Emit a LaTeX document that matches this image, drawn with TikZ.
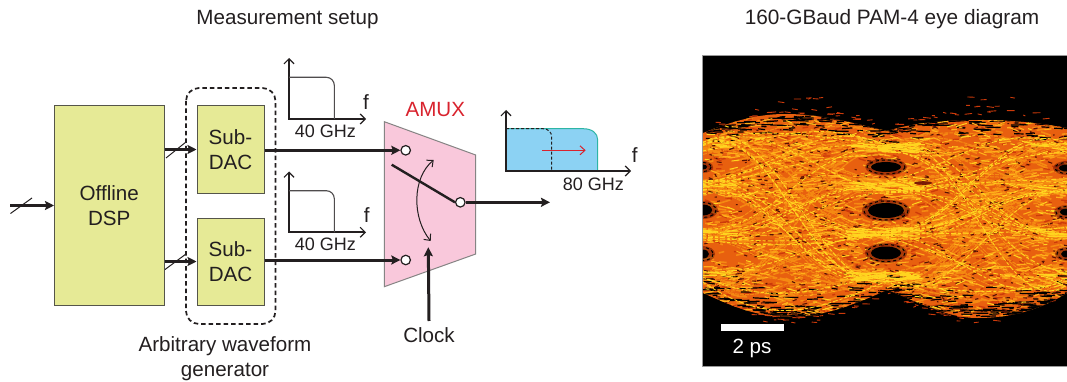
\documentclass[tikz,border=0pt]{standalone}
\usepackage{fontspec}
\setmainfont{Liberation Sans}
\usetikzlibrary{arrows.meta,shapes.geometric,calc}
\definecolor{ink}{HTML}{231F20}
\definecolor{blockfill}{HTML}{E6EA96}
\definecolor{blockedge}{HTML}{55554A}
\definecolor{amuxfill}{HTML}{F9C8DB}
\definecolor{amuxred}{HTML}{D9232E}
\definecolor{specblue}{HTML}{8CD2F3}
\definecolor{specteal}{HTML}{2DB5A5}
\definecolor{eyebase}{HTML}{E8600F}
\definecolor{eyered}{HTML}{CC3A0A}
\definecolor{eyeorange}{HTML}{F58A12}
\definecolor{eyeamber}{HTML}{FFB01A}
\definecolor{eyeyellow}{HTML}{FFD51F}
\definecolor{eyedark}{HTML}{7A1A06}
\newcommand{\bigfont}{\fontsize{20.6}{24}\selectfont}
\newcommand{\midfont}{\fontsize{18}{21}\selectfont}
\tikzset{
  block/.style={draw=blockedge,fill=blockfill,line width=1pt,inner sep=0pt,align=center,font=\bigfont,text=ink},
  label/.style={inner sep=0pt,align=center,font=\bigfont,text=ink},
  smalllabel/.style={inner sep=0pt,font=\midfont,text=ink},
  bus/.style={draw=ink,line width=3pt,-{Stealth[length=9pt,width=9pt,inset=1.5pt]}},
  slashmark/.style={draw=ink,line width=1pt},
  axes/.style={draw=ink,line width=1.8pt,{Straight Barb[length=5pt,width=10pt,line width=1.2pt]}-{Straight Barb[length=5pt,width=10pt,line width=1.2pt]}},
  spectrum/.style={draw=ink!80,line width=1.1pt,rounded corners=8pt},
  port/.style={circle,draw=ink,fill=white,line width=1.2pt,minimum size=9.5pt,inner sep=0pt},
  trace/.style={line width=#1,line cap=butt}
}
\newcommand{\eyetrace}[3]{%
  \pgfmathsetmacro{\xa}{ifthenelse(random(0,1)==1,886,703)}%
  \pgfmathsetmacro{\la}{{148,187,233,277}[random(0,3)]+rand*7}%
  \pgfmathsetmacro{\lb}{{148,187,233,277}[random(0,3)]+rand*7}%
  \pgfmathsetmacro{\ca}{\la+(\la-212)*0.72*rnd}%
  \pgfmathsetmacro{\cb}{\lb+(\lb-212)*0.72*rnd}%
  \draw[#1,trace=#2,#3] (\xa,\la) .. controls (\xa+70,\ca) and (\xa+113,\cb) .. (\xa+183,\lb);%
}
\newcommand{\noisestrokes}[4]{%
  \foreach \i in {1,...,#1}{%
    \pgfmathsetmacro{\sx}{703+364*rnd}%
    \pgfmathsetmacro{\sy}{118+198*rnd}%
    \pgfmathsetmacro{\sl}{#3*(0.4+rnd)}%
    \pgfmathsetmacro{\sd}{\sl*0.45*rand}%
    \draw[#2,line width=#4] (\sx,\sy) -- (\sx+\sl,\sy+\sd);%
  }%
}
\newcommand{\eyeenvelope}{(703,133) .. controls (735,120) and (760,114) .. (785,114)
  .. controls (825,114) and (860,125) .. (887,131)
  .. controls (915,122) and (950,120) .. (983,120)
  .. controls (1015,120) and (1045,124) .. (1067,128)
  -- (1067,293) .. controls (1040,310) and (1010,318) .. (977,318)
  .. controls (945,318) and (915,300) .. (887,290)
  .. controls (860,302) and (825,317) .. (790,317)
  .. controls (755,317) and (730,305) .. (703,293) -- cycle}
\begin{document}
\begin{tikzpicture}[x=1pt,y=-1pt]
\useasboundingbox (0,0) rectangle (1067,382);
\fill[white] (0,0) rectangle (1067,382);

% titles
\node[inner sep=0pt,font=\bigfont,text=ink] (title1) at (287.5,19.5) {Measurement setup};
\node[inner sep=0pt,font=\fontsize{20.8}{24}\selectfont,text=ink] (title2) at (892,19.5) {160-GBaud PAM-4 eye diagram};

% blocks
\node[block,minimum width=109.5pt,minimum height=199pt] (dsp) at (109.25,205.5) {Offline\\[1pt]DSP};
\node[block,minimum width=67pt,minimum height=87pt] (dac1) at (230.5,149.5) {Sub-\\[1pt]DAC};
\node[block,minimum width=67pt,minimum height=87pt] (dac2) at (230.5,261.5) {Sub-\\[1pt]DAC};
\coordinate (awgA) at (186,88);
\coordinate (awgB) at (275.5,324);
\draw[ink,line width=1.7pt,dash pattern=on 4.5pt off 3pt,rounded corners=13pt] (awgA) rectangle (awgB);
\node[label] (awg) at (225,358.5) {Arbitrary waveform\\[1pt]generator};

% input and bus arrows
\coordinate (inp) at (10,205.5);
\draw[bus] (inp) -- (dsp.west);
\coordinate (s1a) at (10.5,213.5); \coordinate (s1b) at (32,198);
\draw[slashmark] (s1a) -- (s1b);
\draw[bus] (dsp.east |- dac1.west) -- (dac1.west);
\draw[bus] (dsp.east |- dac2.west) -- (dac2.west);
\coordinate (s2a) at (166,158); \coordinate (s2b) at (186,142);
\coordinate (s3a) at (165,269.5); \coordinate (s3b) at (186,254);
\draw[slashmark] (s2a) -- (s2b);
\draw[slashmark] (s3a) -- (s3b);

% AMUX
\coordinate (m1) at (384.3,121.7);
\coordinate (m2) at (475.7,155);
\coordinate (m3) at (475.7,254);
\coordinate (m4) at (384.3,286.7);
\draw[fill=amuxfill,draw=none] (m1) -- (m2) -- (m3) -- (m4) -- cycle;
\draw[ink!55,line width=1pt] (m1) -- (m2) -- (m3) -- (m4) -- cycle;
\node[inner sep=0pt,font=\bigfont,text=amuxred] (amux) at (435.3,110) {AMUX};
\node[port] (pin1) at (405.7,150.3) {};
\node[port] (pin2) at (405.7,260) {};
\node[port] (pout) at (460.3,202.3) {};
\draw[bus] (dac1.east |- pin1.west) -- (pin1.west);
\draw[bus] (dac2.east |- pin2.west) -- (pin2.west);
\coordinate (swend) at (391.7,164.7);
\draw[ink,line width=2.4pt] (swend) -- (pout.west);
\coordinate (outend) at (550,202.3);
\draw[bus] (pout.east) -- (outend);
\coordinate (sa) at (433.7,160);
\coordinate (sb) at (430.7,241);
\draw[ink,line width=1pt,{Straight Barb[length=5pt,width=9pt]}-{Straight Barb[length=5pt,width=9pt]}] (sa) .. controls (412,178) and (412,218) .. (sb);
\node[label] (clock) at (429,335.5) {Clock};
\coordinate (clkend) at (428.3,247.3);
\draw[bus] (clock.north |- 0,321) -- (clkend);

% spectra 1
\coordinate (a1o) at (289,119); \coordinate (a1y) at (289,58); \coordinate (a1x) at (366,119);
\draw[axes] (a1y) -- (a1o) -- (a1x);
\draw[spectrum] (289,77.3) -- (334.3,77.3) -- (334.3,119);
\node[label] (f1) at (366,102) {f};
\node[smalllabel] (g1) at (325.3,131) {40 GHz};
% spectra 2
\coordinate (a2o) at (289,232.3); \coordinate (a2y) at (289,171.5); \coordinate (a2x) at (366,232.3);
\draw[axes] (a2y) -- (a2o) -- (a2x);
\draw[spectrum] (289,190.7) -- (334.3,190.7) -- (334.3,232.3);
\node[label] (f2) at (366.7,215) {f};
\node[smalllabel] (g2) at (325.3,244.5) {40 GHz};
% spectra 3
\fill[specblue] (506,128.7) -- (583,128.7) .. controls (592,128.7) and (597.7,133) .. (597.7,140) -- (597.7,171) -- (506,171) -- cycle;
\draw[specteal,line width=1pt] (506,128.7) -- (583,128.7) .. controls (592,128.7) and (597.7,133) .. (597.7,140) -- (597.7,171);
\draw[ink,line width=1pt,dash pattern=on 3pt off 2pt] (506,128.7) -- (543,128.7) .. controls (548,128.7) and (551.7,132) .. (551.7,137) -- (551.7,171);
\coordinate (a3o) at (506,171); \coordinate (a3y) at (506,110); \coordinate (a3x) at (631,171);
\draw[axes] (a3y) -- (a3o) -- (a3x);
\coordinate (ra) at (542.3,150.3); \coordinate (rb) at (585.7,150.3);
\draw[amuxred,line width=1pt,-{Straight Barb[length=5pt,width=9pt]}] (ra) -- (rb);
\node[label] (f3) at (634.7,155) {f};
\node[smalllabel] (g3) at (593.3,184.5) {80 GHz};

% eye diagram
\fill[black] (702.7,55.3) rectangle (1067,366);
\draw[black!40,line width=.8pt] (1067,55.3) -- (702.7,55.3) -- (702.7,366) -- (1067,366);
\begin{scope}
\clip (703.2,55.8) rectangle (1067,365.5);
\pgfmathsetseed{4217}
% sparse fragments outside the body
\foreach \i in {1,...,110}{
  \pgfmathsetmacro{\sx}{715+340*rnd}
  \pgfmathsetmacro{\sphase}{sin(mod(\sx-703,183)/183*180)}
  \pgfmathsetmacro{\sy}{ifthenelse(rnd<0.55,128-14*\sphase-24*\sphase*rnd*rnd,293+24*\sphase+10*\sphase*rnd*rnd)}
  \pgfmathsetmacro{\sl}{2+6*rnd}
  \draw[eyered,line width=.9pt] (\sx,\sy) -- (\sx+\sl,\sy+rand);
}
% body
\fill[eyebase] \eyeenvelope;
\begin{scope}
\clip \eyeenvelope;
\noisestrokes{1000}{eyeorange}{9}{1.6pt}
\noisestrokes{600}{eyered}{6}{1.3pt}
\foreach \i in {1,...,120}{\eyetrace{eyeorange}{1pt}{dash pattern=on 4pt off 1pt}}
% dark streaks hugging the outer edge of the lobes
\foreach \i in {1,...,420}{
  \pgfmathsetmacro{\sx}{703+364*rnd}
  \pgfmathsetmacro{\sphase}{sin(mod(\sx-703,183)/183*180)}
  \pgfmathsetmacro{\sy}{ifthenelse(rnd<0.5,129-13*\sphase+24*rnd*rnd,293+24*\sphase-30*rnd*rnd)}
  \pgfmathsetmacro{\sl}{4+13*rnd}
  \draw[black,line width=1.2pt] (\sx,\sy) -- (\sx+\sl,\sy+rand);
}
\noisestrokes{700}{eyedark!70!black}{3.5}{1.1pt}
\noisestrokes{500}{eyeamber}{8}{1.1pt}
% bright bands that follow the four levels
\foreach \i in {1,...,420}{
  \pgfmathsetmacro{\sx}{703+364*rnd}
  \pgfmathsetmacro{\sy}{{148,187,233,277}[random(0,3)]+rand*11}
  \pgfmathsetmacro{\sl}{4+9*rnd}
  \draw[eyeamber,line width=1.2pt] (\sx,\sy) -- (\sx+\sl,\sy+rand*2.5);
}
\foreach \i in {1,...,45}{\eyetrace{eyeyellow}{.9pt}{dash pattern=on 3pt off 2pt on 5pt off 2pt}}
\noisestrokes{200}{eyeyellow}{8}{1pt}
\end{scope}
% bright strokes at the crossings
\foreach \i in {1,...,230}{
  \pgfmathsetmacro{\cx}{{703,886,886,886,1067}[random(0,4)]}
  \pgfmathsetmacro{\ly}{{148,187,233,277}[random(0,3)]}
  \pgfmathsetmacro{\ox}{rand*32}
  \pgfmathsetmacro{\oy}{rand*4.5}
  \pgfmathsetmacro{\sl}{3+7*rnd}
  \draw[eyeyellow,line width=1.2pt] (\cx+\ox-\sl,\ly+\oy-1) -- (\cx+\ox+\sl,\ly+\oy+rand);
}
% eye openings
\foreach \ex/\ey/\rx/\ry in {886/167/21/8.5,886/210.5/24/11,886/253/21/10,703/210/15/9,703/254/12/8,703/167/10/6,1067/168/14/7,1067/212/13/7,1067/254/12/7}{
  \fill[eyedark,opacity=.6] (\ex,\ey) ellipse[x radius=\rx,y radius=\ry];
  \draw[black,line width=1pt,dash pattern=on 3pt off 3pt] (\ex,\ey) ellipse[x radius=\rx-2,y radius=\ry-1.5];
  \fill[black] (\ex,\ey) ellipse[x radius=\rx-6,y radius=\ry-3.5];
}
\fill[eyedark] (923,183) ellipse[x radius=9,y radius=1.8];
\end{scope}
\fill[white] (721,324.3) rectangle (784,331);
\node[inner sep=0pt,font=\bigfont,text=white] (ps) at (752,348) {2 ps};
\end{tikzpicture}
\end{document}
